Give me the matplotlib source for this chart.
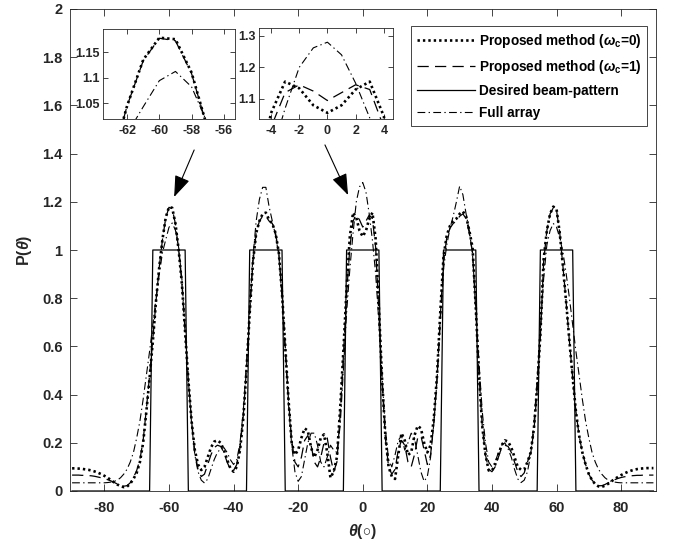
import matplotlib
matplotlib.use('Agg')
import matplotlib.pyplot as plt

plt.rcParams['font.family'] = ['Liberation Sans', 'DejaVu Sans']
plt.rcParams['font.weight'] = 'bold'
plt.rcParams['mathtext.fontset'] = 'custom'
plt.rcParams['mathtext.rm'] = 'Liberation Sans:bold'
plt.rcParams['mathtext.it'] = 'Liberation Sans:italic:bold'
plt.rcParams['mathtext.bf'] = 'Liberation Sans:bold'

theta = list(range(-90, 91))

# Proposed method (omega_c = 0) -- dotted
proposed_w0 = [
    .094, .094, .093, .092, .090, .088, .085, .081, .076, .070,
    .063, .055, .046, .036, .027, .020, .016, .018, .030, .050,
    .075, .12, .20, .33, .47, .62, .79, .93, 1.045, 1.135,
    1.178, 1.175, 1.11, 1.00, .86, .66, .46, .29, .17, .11,
    .087, .10, .14, .18, .205, .21, .20, .17, .13, .095,
    .08, .10, .17, .30, .50, .74, .95, 1.07, 1.12, 1.15,
    1.155, 1.125, 1.11, 1.07, .99, .82, .60, .38, .20, .15,
    .17, .22, .26, .25, .18, .14, .17, .22, .235, .16,
    .055, .08, .14, .34, .58, .84, 1.055, 1.155, 1.134, 1.08,
    1.056, 1.08, 1.13, 1.155, 1.045, .76, .46, .23, .10, .06,
    .05, .15, .24, .21, .15, .16, .23, .27, .26, .20,
    .16, .19, .30, .48, .74, .97, 1.06, 1.10, 1.12, 1.13,
    1.15, 1.16, 1.14, 1.08, 1.01, .76, .48, .27, .15, .085,
    .085, .11, .15, .19, .21, .205, .18, .14, .10, .088,
    .09, .12, .16, .26, .43, .65, .96, 1.08, 1.15, 1.18,
    1.17, 1.07, .93, .78, .62, .47, .33, .23, .16, .11,
    .07, .045, .028, .019, .017, .022, .030, .040, .050, .058,
    .066, .073, .079, .084, .088, .091, .093, .094, .095, .095,
    .095,
]

# Proposed method (omega_c = 1) -- dashed
proposed_w1 = [
    .066, .066, .066, .065, .065, .064, .063, .061, .058, .055,
    .051, .047, .042, .036, .029, .023, .020, .022, .034, .056,
    .085, .13, .21, .34, .48, .63, .79, .93, 1.045, 1.133,
    1.177, 1.172, 1.108, 1.00, .86, .66, .46, .29, .16, .09,
    .06, .07, .11, .15, .18, .19, .185, .16, .12, .09,
    .085, .11, .18, .31, .51, .74, .95, 1.07, 1.12, 1.14,
    1.14, 1.12, 1.11, 1.07, .99, .82, .60, .38, .21, .12,
    .10, .14, .21, .23, .19, .12, .10, .14, .20, .22,
    .14, .08, .12, .32, .56, .82, 1.01, 1.12, 1.145, 1.125,
    1.095, 1.12, 1.145, 1.13, 1.01, .74, .45, .22, .10, .07,
    .09, .17, .21, .19, .12, .10, .15, .22, .23, .17,
    .11, .15, .28, .47, .72, .95, 1.05, 1.09, 1.11, 1.12,
    1.14, 1.15, 1.13, 1.07, .99, .75, .48, .27, .15, .09,
    .08, .10, .14, .18, .19, .185, .16, .12, .08, .06,
    .075, .12, .16, .25, .42, .64, .95, 1.08, 1.15, 1.175,
    1.165, 1.07, .93, .78, .62, .47, .33, .23, .16, .11,
    .07, .045, .03, .022, .022, .027, .034, .041, .047, .052,
    .056, .059, .061, .063, .064, .065, .065, .066, .066, .066,
    .066,
]

# Desired beam-pattern -- solid
desired = [
    0, 0, 0, 0, 0, 0, 0, 0, 0, 0,
    0, 0, 0, 0, 0, 0, 0, 0, 0, 0,
    0, 0, 0, 0, 0, 1, 1, 1, 1, 1,
    1, 1, 1, 1, 1, 1, 0, 0, 0, 0,
    0, 0, 0, 0, 0, 0, 0, 0, 0, 0,
    0, 0, 0, 0, 0, 1, 1, 1, 1, 1,
    1, 1, 1, 1, 1, 1, 0, 0, 0, 0,
    0, 0, 0, 0, 0, 0, 0, 0, 0, 0,
    0, 0, 0, 0, 0, 1, 1, 1, 1, 1,
    1, 1, 1, 1, 1, 1, 0, 0, 0, 0,
    0, 0, 0, 0, 0, 0, 0, 0, 0, 0,
    0, 0, 0, 0, 0, 1, 1, 1, 1, 1,
    1, 1, 1, 1, 1, 1, 0, 0, 0, 0,
    0, 0, 0, 0, 0, 0, 0, 0, 0, 0,
    0, 0, 0, 0, 0, 1, 1, 1, 1, 1,
    1, 1, 1, 1, 1, 1, 0, 0, 0, 0,
    0, 0, 0, 0, 0, 0, 0, 0, 0, 0,
    0, 0, 0, 0, 0, 0, 0, 0, 0, 0,
    0,
]

# Full array -- dash-dot
full_array = [
    .034, .034, .034, .034, .034, .034, .034, .034, .034, .034,
    .034, .035, .037, .040, .045, .055, .07, .09, .12, .16,
    .22, .29, .38, .48, .58, .69, .80, .90, .99, 1.043,
    1.094, 1.112, 1.082, 1.01, .88, .67, .46, .28, .15, .08,
    .045, .033, .05, .09, .13, .16, .175, .18, .16, .13,
    .11, .13, .20, .33, .53, .76, .97, 1.12, 1.21, 1.26,
    1.26, 1.18, 1.12, 1.06, .98, .80, .58, .36, .19, .08,
    .04, .06, .13, .20, .24, .24, .19, .12, .10, .14,
    .19, .17, .16, .27, .50, .74, .92, 1.07, 1.20, 1.262,
    1.28, 1.24, 1.15, 1.04, .90, .70, .47, .26, .13, .10,
    .15, .21, .23, .17, .20, .24, .22, .15, .08, .04,
    .06, .14, .28, .46, .70, .92, 1.02, 1.09, 1.14, 1.20,
    1.265, 1.23, 1.15, 1.08, .98, .76, .53, .33, .20, .12,
    .10, .12, .16, .19, .20, .175, .14, .09, .05, .035,
    .045, .08, .15, .28, .46, .67, .88, 1.02, 1.08, 1.11,
    1.095, 1.05, .99, .90, .80, .69, .58, .48, .38, .29,
    .22, .16, .12, .09, .07, .055, .045, .040, .037, .035,
    .034, .034, .034, .034, .034, .034, .034, .034, .034, .034,
    .034,
]

labels = [r'Proposed method ($\omega_{\mathrm{c}}$=0)',
          r'Proposed method ($\omega_{\mathrm{c}}$=1)',
          'Desired beam-pattern',
          'Full array']

x_ticks = [-80, -60, -40, -20, 0, 20, 40, 60, 80]
y_ticks = [0, 0.2, 0.4, 0.6, 0.8, 1.0, 1.2, 1.4, 1.6, 1.8, 2.0]
y_ticklabels = ['0', '0.2', '0.4', '0.6', '0.8', '1', '1.2', '1.4', '1.6', '1.8', '2']
inset1_xticks = [-62, -60, -58, -56]
inset1_yticks = [1.05, 1.1, 1.15]
inset1_yticklabels = ['1.05', '1.1', '1.15']
inset2_xticks = [-4, -2, 0, 2, 4]
inset2_yticks = [1.1, 1.2, 1.3]
inset2_yticklabels = ['1.1', '1.2', '1.3']

AX = '#262626'
styles = [
    dict(color='black', lw=1.9, linestyle=(0, (0.9, 1.15)), dash_capstyle='butt'),
    dict(color='black', lw=0.9, linestyle=(0, (9, 5))),
    dict(color='black', lw=0.9, linestyle='-'),
    dict(color='black', lw=0.8, linestyle=(0, (7, 3, 1.2, 3))),
]
series = [proposed_w0, proposed_w1, desired, full_array]


def draw(ax, with_labels=False):
    for s, st, lab in zip(series, styles, labels):
        ax.plot(theta, s, label=lab if with_labels else None, **st)


def style_axes(ax, labelsize, length, xpad, ypad):
    for sp in ax.spines.values():
        sp.set_color(AX)
        sp.set_linewidth(0.6)
    ax.tick_params(direction='in', top=True, right=True, length=length, width=0.6,
                   colors=AX, labelsize=labelsize)
    ax.tick_params(axis='x', pad=xpad)
    ax.tick_params(axis='y', pad=ypad)
    for t in ax.get_xticklabels() + ax.get_yticklabels():
        t.set_fontweight('bold')


fig = plt.figure(figsize=(6.78, 5.45), dpi=100)
ax = fig.add_axes([69.5 / 678, 54 / 545, 586.5 / 678, 482 / 545])
draw(ax, with_labels=True)
ax.set_xlim(-90.8, 90.8)
ax.set_ylim(0, 2)
ax.set_xticks(x_ticks)
ax.set_xticklabels([str(v) for v in x_ticks])
ax.set_yticks(y_ticks)
ax.set_yticklabels(y_ticklabels)
style_axes(ax, 10.5, 5, 7, 5)
ax.set_xlabel(r'$\theta$($\circ$)', fontsize=11.5, fontweight='bold', color=AX, labelpad=5)
ax.set_ylabel(r'P($\theta$)', fontsize=11.5, fontweight='bold', color=AX, labelpad=6)

leg = ax.legend(loc='upper right', bbox_to_anchor=(0.9847, 0.965), borderaxespad=0,
                fancybox=False, framealpha=1, edgecolor=AX,
                handlelength=4.3, handletextpad=0.25, labelspacing=0.6, borderpad=0.42,
                prop={'weight': 'bold', 'size': 9.8})
leg.get_frame().set_linewidth(0.6)

arrow_style = dict(arrowstyle='-|>,head_length=1.1,head_width=0.4',
                   color='black', lw=0.8, shrinkA=0, shrinkB=0, mutation_scale=12)
ax.annotate('', xy=(-58.4, 1.22), xytext=(-52.2, 1.415), arrowprops=arrow_style)
ax.annotate('', xy=(-4.55, 1.228), xytext=(-11.7, 1.436), arrowprops=arrow_style)

ax1 = fig.add_axes([103 / 678, (545 - 119) / 545, 132 / 678, 90 / 545])
draw(ax1)
ax1.set_xlim(-63.5, -55.3)
ax1.set_ylim(1.019, 1.195)
ax1.set_xticks(inset1_xticks)
ax1.set_xticklabels([str(v) for v in inset1_xticks])
ax1.set_yticks(inset1_yticks)
ax1.set_yticklabels(inset1_yticklabels)
style_axes(ax1, 9, 3.5, 4, 2.5)

ax2 = fig.add_axes([259 / 678, (545 - 119) / 545, 134 / 678, 91 / 545])
draw(ax2)
ax2.set_xlim(-4.85, 4.65)
ax2.set_ylim(1.0365, 1.325)
ax2.set_xticks(inset2_xticks)
ax2.set_xticklabels([str(v) for v in inset2_xticks])
ax2.set_yticks(inset2_yticks)
ax2.set_yticklabels(inset2_yticklabels)
style_axes(ax2, 9, 3.5, 4, 2.5)

fig.savefig('out.png', dpi=100)
